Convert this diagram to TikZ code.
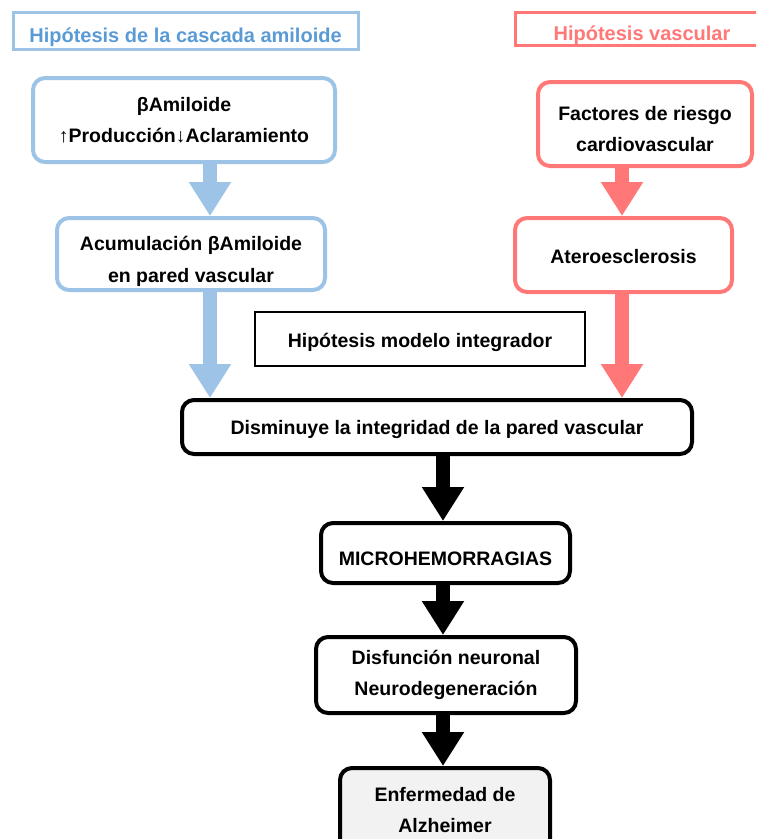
\documentclass[tikz,border=0pt]{standalone}
\usepackage{fontspec}
\setmainfont{Liberation Sans}
\usetikzlibrary{arrows.meta}
\definecolor{amiblue}{HTML}{9DC3E6}
\definecolor{amitext}{HTML}{5B9BD5}
\definecolor{vasred}{HTML}{FF7777}
\definecolor{alzgray}{HTML}{F2F2F2}
\newcommand{\bajatexto}[1]{\rule{0pt}{#1}}
\tikzset{
  caja/.style={draw, rounded corners=12pt, line width=4pt, align=center, inner sep=0pt,
    font=\fontsize{19.5}{31.5}\selectfont\bfseries},
  titulo/.style={draw, line width=3pt, inner sep=0pt,
    font=\fontsize{20}{24}\selectfont\bfseries},
  flecha/.style={line width=14pt, -{Triangle[length=34pt,width=40pt]}},
}
\begin{document}
\begin{tikzpicture}[x=1pt,y=-1pt]
	\clip (0,0) rectangle (756,839);
	% Titles
	\node[titulo, draw=amiblue, text=amitext, minimum width=345, minimum height=37] (tamil) at (185.5,30.5) {\bajatexto{28pt}Hipótesis de la cascada amiloide};
	\node[titulo, draw=vasred, text=vasred, minimum width=254, minimum height=33] (tvasc) at (642,28.5) {\bajatexto{28pt}Hipótesis vascular};
	% Amyloid column
	\node[caja, draw=amiblue, minimum width=302, minimum height=84] (amil) at (184,120) {βAmiloide\\↑Producción↓Aclaramiento};
	\node[caja, draw=amiblue, minimum width=268, minimum height=72] (acum) at (191,254) {\bajatexto{29pt}Acumulación βAmiloide\\en pared vascular};
	% Vascular column
	\node[caja, draw=vasred, minimum width=214, minimum height=84] (riesgo) at (645,124) {\bajatexto{24pt}Factores de riesgo\\cardiovascular};
	\node[caja, draw=vasred, minimum width=217, minimum height=74] (atero) at (623.5,255) {\bajatexto{18pt}Ateroesclerosis};
	% Integrating model
	\node[caja, rounded corners=0pt, line width=2.5pt, minimum width=330, minimum height=54] (integ) at (420,339) {\bajatexto{22pt}Hipótesis modelo integrador};
	\node[caja, minimum width=510, minimum height=54] (dismi) at (437,427) {\bajatexto{20pt}Disminuye la integridad de la pared vascular};
	\node[caja, minimum width=249, minimum height=60] (micro) at (445.5,553) {\bajatexto{26pt}MICROHEMORRAGIAS};
	\node[caja, minimum width=260, minimum height=76] (disf) at (446,675) {Disfunción neuronal\\Neurodegeneración};
	\node[caja, fill=alzgray, minimum width=210, minimum height=84] (alz) at (445,810) {Enfermedad de\\Alzheimer};
	% Arrow axes
	\coordinate (ejeami) at (210,0);
	\coordinate (ejevas) at (622,0);
	\coordinate (ejecen) at (443,0);
	% Draw arrows
	\draw[flecha, amiblue] (amil.south -| ejeami) -- (acum.north -| ejeami);
	\draw[flecha, amiblue] (acum.south -| ejeami) -- (dismi.north -| ejeami);
	\draw[flecha, vasred] (riesgo.south -| ejevas) -- (atero.north -| ejevas);
	\draw[flecha, vasred] (atero.south -| ejevas) -- (dismi.north -| ejevas);
	\draw[flecha] (dismi.south -| ejecen) -- (micro.north -| ejecen);
	\draw[flecha] (micro.south -| ejecen) -- (disf.north -| ejecen);
	\draw[flecha] (disf.south -| ejecen) -- (alz.north -| ejecen);
\end{tikzpicture}
\end{document}
